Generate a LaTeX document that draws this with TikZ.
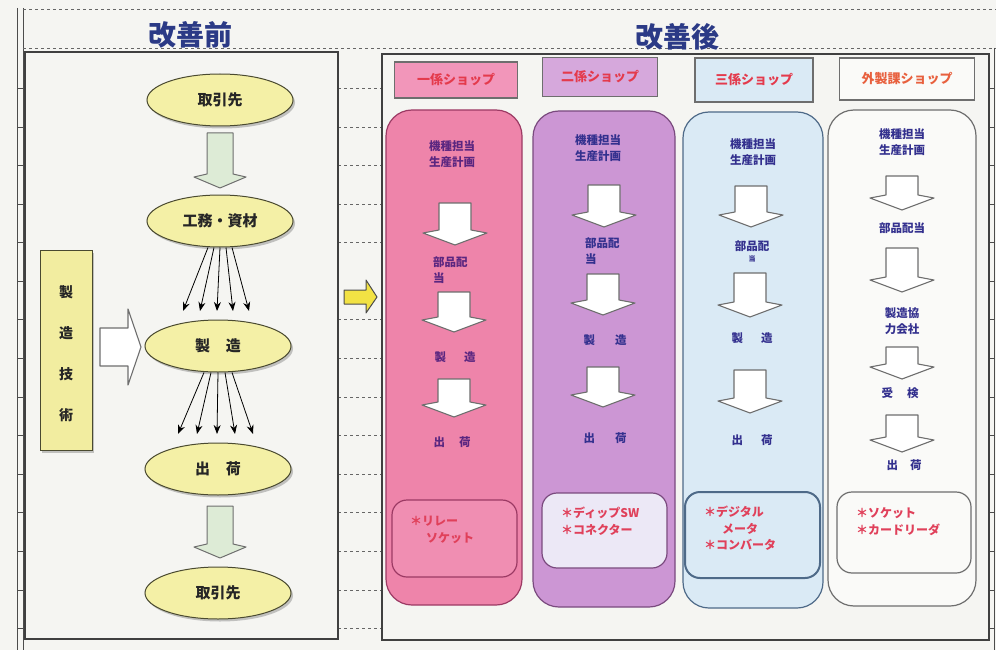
\documentclass[tikz,border=0pt]{standalone}
\usepackage{fontspec}
\setmainfont{Noto Sans CJK JP}
\usetikzlibrary{shapes.geometric,shadows,arrows.meta}
\definecolor{bg}{HTML}{F5F5F2}
\definecolor{navy}{HTML}{2B3A86}
\definecolor{elly}{HTML}{F4F0A6}
\definecolor{ellb}{HTML}{4A4A30}
\definecolor{grn}{HTML}{DDEBD6}
\definecolor{pinkC}{HTML}{EE84AA}
\definecolor{pinkH}{HTML}{F296BA}
\definecolor{pinkB}{HTML}{9C3A64}
\definecolor{pinkI}{HTML}{F08EB2}
\definecolor{purC}{HTML}{CC96D4}
\definecolor{purH}{HTML}{D6A8DC}
\definecolor{purB}{HTML}{7A4A7E}
\definecolor{bluC}{HTML}{DAEAF5}
\definecolor{bluB}{HTML}{4E6A88}
\definecolor{whC}{HTML}{FAFAF8}
\definecolor{grB}{HTML}{6E6E6E}
\definecolor{redT}{HTML}{E43A4C}
\definecolor{orT}{HTML}{E8603E}
\definecolor{txtA}{HTML}{5A2680}
\definecolor{txtB}{HTML}{33308E}
\definecolor{boxR}{HTML}{E0405A}
\definecolor{lav}{HTML}{ECE8F6}
\definecolor{yel}{HTML}{F2EDA0}
\definecolor{yarr}{HTML}{F2E244}
\tikzset{
  arrline/.style={draw=grB,line width=1.1pt,fill=white,line join=round},
  pics/dnarr/.style={code={\draw[arrline] (-16,0) -- (16,0) -- (16,{#1-15}) -- (32,{#1-12}) -- (0,#1) -- (-32,{#1-12}) -- (-16,{#1-15}) -- cycle;}},
  pics/grarr/.style={code={\draw[draw=grB,fill=grn,line width=1pt,line join=round] (-13,0) -- (13,0) -- (13,{#1-14}) -- (26,{#1-11}) -- (0,#1) -- (-26,{#1-11}) -- (-13,{#1-14}) -- cycle;}},
}
\begin{document}
\begin{tikzpicture}[x=1pt,y=-1pt,
  ell/.style={ellipse,draw=ellb,line width=1pt,fill=elly,minimum width=146pt,minimum height=52pt,inner sep=0pt,
    font=\bfseries\fontsize{15}{17}\selectfont,text=black!85,
    drop shadow={shadow xshift=2pt,shadow yshift=-2.5pt,fill=black!45}},
  hdr/.style={draw=grB,line width=1.2pt,font=\bfseries\fontsize{13}{15}\selectfont,inner sep=0pt},
  colbox/.style={rounded corners=26pt,line width=1.2pt,inner sep=0pt},
  inbox/.style={rounded corners=15pt,line width=1.2pt,inner sep=0pt},
  btxt/.style={font=\bfseries\fontsize{11.5}{16}\selectfont,align=center,inner sep=0pt},
  rtxt/.style={font=\bfseries\fontsize{12}{17}\selectfont,align=left,inner sep=0pt,anchor=west,text=boxR},
  fan/.style={line width=0.8pt,-{Stealth[length=9pt,width=7pt]}},
  gridl/.style={dashed,draw=black!60,line width=0.8pt},
  frame/.style={draw=black!70,line width=1pt}]
\useasboundingbox (0,0) rectangle (996,650);
\fill[bg] (0,0) rectangle (996,650);

% outer table lines
\draw[frame] (17,8) -- (17,650);
\draw[frame] (23,8) -- (23,650);
\draw[gridl] (23,9) -- (996,9);
\draw[gridl] (23,48) -- (996,48);
\draw[frame] (994,48) -- (994,650);
\foreach \y in {88,127,165,204,242,281,319,358,397,435,474,512,551,590,628}{
  \draw[frame,line width=0.6pt] (17,\y) -- (23,\y);
  \draw[frame,line width=0.6pt] (989,\y) -- (994,\y);
}
\foreach \y in {88,127,165,204,242,319,358,397,435,474,512,551,590,628}
  \draw[gridl] (338,\y) -- (382,\y);

% titles
\node[font=\bfseries\fontsize{28}{30}\selectfont,text=navy,inner sep=0pt] (tmae) at (190,35) {改善前};
\node[font=\bfseries\fontsize{28}{30}\selectfont,text=navy,inner sep=0pt] (tato) at (677,37) {改善後};

% panels
\node[draw=black!75,line width=1.2pt,fill=bg,minimum width=313pt,minimum height=587pt,inner sep=0pt] (left) at (181.5,345.5) {};
\node[draw=black!75,line width=1.2pt,fill=bg,minimum width=607pt,minimum height=586pt,inner sep=0pt] (right) at (685.5,347) {};

% ---- left panel ----
\node[ell] (tr1) at (220,100) {取引先};
\pic at (220,133) {grarr=55};
\node[ell] (kou) at (220,221) {工務・資材};
\node[ell] (sei) at (218,346) {製\hspace{16pt}造};
\node[ell] (shu) at (218,469) {出\hspace{16pt}荷};
\pic at (220,506) {grarr=52};
\node[ell] (tr2) at (218,593) {取引先};

\foreach \i/\dx/\ex in {1/-12/183,2/-6/200,3/0/217,4/6/233,5/12/249}{
  \coordinate (fa\i) at (\ex,311);
  \draw[fan] ([xshift=\dx pt]kou.south) -- (fa\i);
}
\foreach \i/\dx/\ex in {1/-14/178,2/-7/197,3/0/217,4/7/235,5/14/253}{
  \coordinate (fb\i) at (\ex,434);
  \draw[fan] ([xshift=\dx pt]sei.south) -- (fb\i);
}

\node[draw=ellb,line width=1pt,fill=yel,minimum width=52pt,minimum height=200pt,inner sep=0pt,
  drop shadow={shadow xshift=2pt,shadow yshift=-2.5pt,fill=black!45}] (tech) at (66,350) {};
\node[font=\bfseries\fontsize{14}{41}\selectfont,align=center,inner sep=0pt,text=black!85] (techt) at (66,354) {製\\造\\技\\術};
\draw[arrline] (100,328) -- (128,328) -- (128,309) -- (141,347) -- (128,385) -- (128,366) -- (100,366) -- cycle;

% yellow arrow between panels
\draw[draw=black!70,fill=yarr,line width=1pt,line join=round] (344,290) -- (366,290) -- (366,280) -- (377,297) -- (366,313) -- (366,304) -- (344,304) -- cycle;

% ---- right panel headers ----
\node[hdr,fill=pinkH,minimum width=123pt,minimum height=36pt,text=redT] (h1) at (456,80) {一係ショップ};
\node[hdr,fill=purH,minimum width=115pt,minimum height=39pt,text=redT] (h2) at (600,77) {二係ショップ};
\node[hdr,fill=bluC,minimum width=118pt,minimum height=44pt,text=redT] (h3) at (754,80) {三係ショップ};
\node[hdr,fill=whC,minimum width=135pt,minimum height=42pt,text=orT] (h4) at (907,79) {外製課ショップ};

% columns
\node[colbox,fill=pinkC,draw=pinkB,minimum width=136pt,minimum height=495pt] (col1) at (454,357.5) {};
\node[colbox,fill=purC,draw=purB,minimum width=142pt,minimum height=496pt] (col2) at (604,359) {};
\node[colbox,fill=bluC,draw=bluB,minimum width=140pt,minimum height=496pt] (col3) at (753,360) {};
\node[colbox,fill=whC,draw=grB,minimum width=148pt,minimum height=496pt] (col4) at (902,358) {};

% column 1
\node[btxt,text=txtA] (k1) at (452,154) {機種担当\\生産計画};
\pic at (455,203) {dnarr=42};
\node[btxt,text=txtA,align=left,anchor=west] (p1) at (433,270) {部品配\\当};
\pic at (454,292) {dnarr=40};
\node[btxt,text=txtA] (s1) at (455,357) {製\hspace{18pt}造};
\pic at (454,379) {dnarr=38};
\node[btxt,text=txtA] (o1) at (452,442) {出\hspace{14pt}荷};
\node[inbox,fill=pinkI,draw=pinkB,minimum width=125pt,minimum height=77pt] (in1) at (454.5,538.5) {};
\node[rtxt] (r1) at (410,529.5) {＊リレー\\\hspace{16pt}ソケット};

% column 2
\node[btxt,text=txtB] (k2) at (598,148) {機種担当\\生産計画};
\pic at (604,185) {dnarr=42};
\node[btxt,text=txtB,align=left,anchor=west] (p2) at (585,251) {部品配\\当};
\pic at (603,274) {dnarr=41};
\node[btxt,text=txtB] (s2) at (605,340) {製\hspace{20pt}造};
\pic at (603,367) {dnarr=40};
\node[btxt,text=txtB] (o2) at (605,438) {出\hspace{20pt}荷};
\node[inbox,fill=lav,draw=purB,minimum width=125pt,minimum height=75pt] (in2) at (604.5,530.5) {};
\node[rtxt] (r2) at (561,521.5) {＊ディップSW\\＊コネクター};

% column 3
\node[btxt,text=txtB] (k3) at (753,152) {機種担当\\生産計画};
\pic at (751,186) {dnarr=41};
\node[btxt,text=txtB] (p3) at (752,246) {部品配};
\node[font=\bfseries\fontsize{7}{8}\selectfont,text=txtB,inner sep=0pt] (p3b) at (752,259) {当};
\pic at (750,273) {dnarr=44};
\node[btxt,text=txtB] (s3) at (752,338) {製\hspace{18pt}造};
\pic at (750,370) {dnarr=43};
\node[btxt,text=txtB] (o3) at (752,440) {出\hspace{18pt}荷};
\node[inbox,fill=bluC,draw=bluB,line width=2pt,minimum width=135pt,minimum height=86pt] (in3) at (752.5,535) {};
\node[rtxt,font=\bfseries\fontsize{12}{16.5}\selectfont] (r3) at (704,528.5) {＊デジタル\\\hspace{18pt}メータ\\＊コンバータ};

% column 4
\node[btxt,text=txtB] (k4) at (902,142) {機種担当\\生産計画};
\pic at (902,176) {dnarr=34};
\node[btxt,text=txtB] (p4) at (902,228) {部品配当};
\pic at (902,248) {dnarr=44};
\node[btxt,text=txtB] (m4) at (902,321) {製造協\\力会社};
\pic at (902,347) {dnarr=32};
\node[btxt,text=txtB] (j4) at (900,393) {受\hspace{14pt}検};
\pic at (902,415) {dnarr=37};
\node[btxt,text=txtB] (o4) at (904,465) {出\hspace{12pt}荷};
\node[inbox,fill=whC,draw=grB,minimum width=134pt,minimum height=81pt] (in4) at (904,532.5) {};
\node[rtxt] (r4) at (856,521.5) {＊ソケット\\＊カードリーダ};
\end{tikzpicture}
\end{document}
